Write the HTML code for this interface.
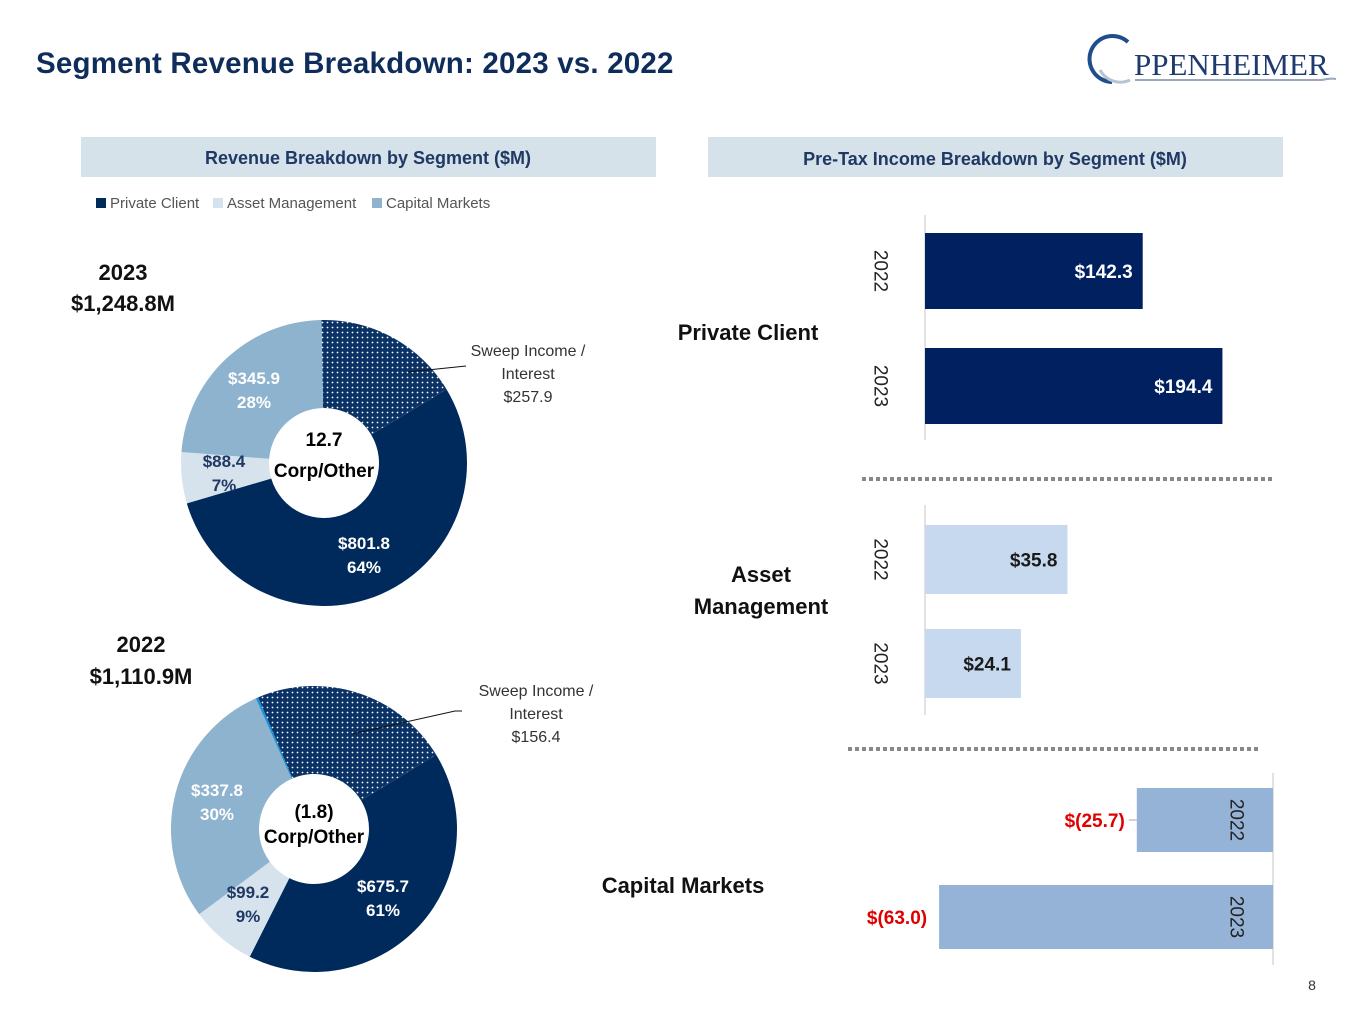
<!DOCTYPE html>
<html><head><meta charset="utf-8"><style>
body{margin:0;width:1365px;height:1024px;background:#fff;font-family:"Liberation Sans",sans-serif;position:relative;overflow:hidden}
svg{position:absolute;left:0;top:0}
</style></head><body>
<svg id="s" width="1365" height="1024" viewBox="0 0 1365 1024" font-family="Liberation Sans, sans-serif">
<defs>
<pattern id="dots" width="5" height="5" patternUnits="userSpaceOnUse"><rect width="5" height="5" fill="#0a3265"/><circle cx="2.5" cy="2.5" r="0.9" fill="#fff"/></pattern>
</defs>
<text x="36" y="73" font-size="29.5" font-weight="bold" fill="#0f2d5a" letter-spacing="0.2">Segment Revenue Breakdown: 2023 vs. 2022</text>
<g>
<path d="M1128 42 A23 23 0 1 0 1112 82" fill="none" stroke="#1f4e8c" stroke-width="4"/>
<path d="M1100 70 A23 23 0 0 0 1130 80" fill="none" stroke="#b8c4d0" stroke-width="3"/>
<text x="1134" y="75" font-family="Liberation Serif, serif" font-size="31" fill="#1f3a6e">PPENHEIMER</text>
<path d="M1135 80 L1322 80 Q1330 78 1336 79" stroke="#9aa8b8" stroke-width="2" fill="none"/>
</g>
<rect x="81" y="137" width="575" height="40" fill="#d6e2ea"/>
<text x="368" y="164" text-anchor="middle" font-size="18" font-weight="bold" fill="#1f3864">Revenue Breakdown by Segment ($M)</text>
<rect x="708" y="137" width="575" height="40" fill="#d6e2ea"/>
<text x="995" y="165" text-anchor="middle" font-size="18" font-weight="bold" fill="#1f3864">Pre-Tax Income Breakdown by Segment ($M)</text>
<g font-size="15" fill="#555">
<rect x="96" y="198" width="10" height="10" fill="#002a5c"/><text x="110" y="208">Private Client</text>
<rect x="213" y="198" width="10" height="10" fill="#d7e3ec"/><text x="227" y="208">Asset Management</text>
<rect x="372" y="198" width="10" height="10" fill="#8db3cf"/><text x="386" y="208">Capital Markets</text>
</g>
<g font-weight="bold" font-size="22" fill="#111" text-anchor="middle">
<text x="123" y="280">2023</text>
<text x="123" y="311">$1,248.8M</text>
<text x="141" y="652">2022</text>
<text x="141" y="684">$1,110.9M</text>
<text x="748" y="340">Private Client</text>
<text x="761" y="582">Asset</text>
<text x="761" y="614">Management</text>
<text x="683" y="893">Capital Markets</text>
</g>
<line x1="862" y1="479" x2="1272" y2="479" stroke="#888" stroke-width="4" stroke-dasharray="4,3"/>
<line x1="848" y1="749" x2="1258" y2="749" stroke="#888" stroke-width="4" stroke-dasharray="4,3"/>
<g id="charts"></g>
<text x="1312" y="990" font-size="14" fill="#333" text-anchor="middle">8</text>
</svg>
<script>
// donut slice weights (degrees of arc as drawn): sweep, private client other, asset mgmt, capital markets, corp/other
const sliceNames = ['sweep-income','private-client','asset-management','capital-markets','corp-other'];
const donut2023 = [60, 194.6, 20.8, 84.6, 0];
const donut2022 = [81.7, 148, 26.7, 102.6, 1];
const sliceFills = ['url(#dots)','#002a5c','#d7e3ec','#8db3cf','#1a8fd6'];
// bar data
const pcValues = [142.3, 194.4];
const amValues = [35.8, 24.1];
const cmValues = [-25.7, -63.0];
const barYears = ['2022','2023'];
const pcLabels = ['$142.3','$194.4'];
const amLabels = ['$35.8','$24.1'];
const cmLabels = ['$(25.7)','$(63.0)'];

const NS='http://www.w3.org/2000/svg';
const root=document.getElementById('charts');
function mk(tag,attrs,parent){const e=document.createElementNS(NS,tag);for(const k in attrs)e.setAttribute(k,attrs[k]);(parent||root).appendChild(e);return e;}
function txt(x,y,s,attrs){const e=mk('text',Object.assign({x:x,y:y},attrs));e.textContent=s;return e;}
function pt(cx,cy,r,a){const t=(a-90)*Math.PI/180;return [cx+r*Math.cos(t),cy+r*Math.sin(t)];}
function donut(vals,cx,cy,R,r,start,name){
  const g=mk('g',{});
  
  
  const tot=vals.reduce((a,b)=>a+b,0);
  let a=start;
  vals.forEach((v,i)=>{
    if(v<=0)return;
    const sw=v/tot*360, b=a+sw, lg=sw>180?1:0;
    const p1=pt(cx,cy,R,a),p2=pt(cx,cy,R,b),p3=pt(cx,cy,r,b),p4=pt(cx,cy,r,a);
    const p=mk('path',{d:`M${p1} A${R} ${R} 0 ${lg} 1 ${p2} L${p3} A${r} ${r} 0 ${lg} 0 ${p4}Z`,fill:sliceFills[i]},g);
    
    
    a=b;
  });
}
donut(donut2023,324,463,143,55,-1,'donut-2023');
donut(donut2022,314,829,143,55,-23,'donut-2022');

const L={'font-weight':'bold','font-size':17,'text-anchor':'middle'};
function lab(x,y,a,b,c){txt(x,y,a,Object.assign({fill:c},L));txt(x,y+24,b,Object.assign({fill:c},L));}
lab(254,384,'$345.9','28%','#fff');lab(224,467,'$88.4','7%','#1f3864');lab(364,549,'$801.8','64%','#fff');
lab(217,796,'$337.8','30%','#fff');lab(248,898,'$99.2','9%','#1f3864');lab(383,892,'$675.7','61%','#fff');
const C={'font-weight':'bold','font-size':19,'text-anchor':'middle',fill:'#000'};
txt(324,446,'12.7',C);txt(324,477,'Corp/Other',C);
txt(314,818,'(1.8)',C);txt(314,843,'Corp/Other',C);
const S={'font-size':16,fill:'#333','text-anchor':'middle'};
txt(528,356,'Sweep Income /',S);txt(528,379,'Interest',S);txt(528,402,'$257.9',S);
txt(536,696,'Sweep Income /',S);txt(536,719,'Interest',S);txt(536,742,'$156.4',S);
mk('path',{d:'M466 366 L408 372',stroke:'#111','stroke-width':1,fill:'none'});
mk('path',{d:'M462 711 L455 711 L352 734',stroke:'#111','stroke-width':1,fill:'none'});

function barGroup(vals,labels,axisX,scale,ys,h,fill,labFill,yearX,name,neg,yTop,yBot){
  mk('line',{x1:axisX,y1:yTop,x2:axisX,y2:yBot,stroke:'#d9d9d9','stroke-width':1.5});
  vals.forEach((v,i)=>{
    const w=Math.abs(v)*scale;
    const x=v<0?axisX-w:axisX;
    const r=mk('rect',{x:x,y:ys[i],width:w,height:h,fill:fill});
    
    
    const cy=ys[i]+h/2+7;
    if(!neg) txt(x+w-10,cy,labels[i],{'font-weight':'bold','font-size':19,fill:labFill,'text-anchor':'end'});
    else {
      txt(x-12,cy,labels[i],{'font-weight':'bold','font-size':19,fill:'#e00000','text-anchor':'end'});
      if(i===0) mk('line',{x1:x-8,y1:ys[i]+h/2,x2:x,y2:ys[i]+h/2,stroke:'#aaa'});
    }
    const yx=neg?axisX-37:yearX, yc=ys[i]+h/2;
    txt(yx,yc,barYears[i],{'font-size':19,fill:'#222','text-anchor':'middle','dominant-baseline':'central',transform:`rotate(90 ${yx} ${yc})`});
  });
}
barGroup(pcValues,pcLabels,925,1.53,[233,348],76,'#002060','#fff',880,'private-client',false,215,440);
barGroup(amValues,amLabels,925,3.98,[525,629],69,'#c6d9ef','#1a1a1a',880,'asset-management',false,505,715);
barGroup(cmValues,cmLabels,1273,5.3,[788,885],64,'#95b3d7','#e00',0,'capital-markets',true,773,965);
</script>
</body></html>
